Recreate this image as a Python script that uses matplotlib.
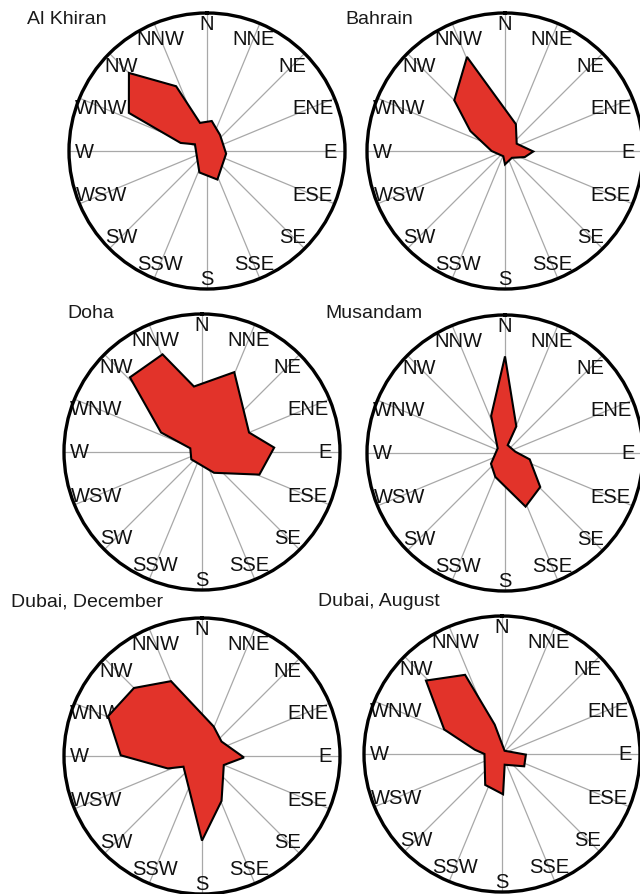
import numpy as np
import matplotlib.pyplot as plt

plt.rcParams['font.family'] = ['Liberation Sans', 'DejaVu Sans']

# 16 compass points, bearing clockwise from north
directions = ['N', 'NNE', 'NE', 'ENE', 'E', 'ESE', 'SE', 'SSE',
              'S', 'SSW', 'SW', 'WSW', 'W', 'WNW', 'NW', 'NNW']

stations = ['Al Khiran', 'Bahrain', 'Doha', 'Musandam',
            'Dubai, December', 'Dubai, August']

# outline of each rose: bearing (deg) and radius (1 = outer circle)
al_khiran_deg = [315, 334.5, 346, 9, 39, 98, 160, 199.5, 299, 287, 296]
al_khiran_r = [0.80, 0.52, 0.21, 0.22, 0.15, 0.14, 0.22, 0.165, 0.10, 0.20, 0.63]

bahrain_deg = [338, 22, 58, 91, 107, 135, 180, 198, 270, 300, 315]
bahrain_r = [0.735, 0.21, 0.10, 0.205, 0.15, 0.07, 0.097, 0.04, 0.097, 0.29, 0.52]

doha_deg = [338, 353, 22, 67.5, 86.5, 111.5, 150, 235.5, 287.5, 295.5, 316]
doha_r = [0.763, 0.478, 0.624, 0.369, 0.524, 0.447, 0.174, 0.094, 0.089, 0.329, 0.752]

musandam_deg = [0, 23, 19, 82.5, 104.5, 134, 159, 202, 232.5, 302.5, 339.5]
musandam_r = [0.70, 0.21, 0.06, 0.075, 0.185, 0.355, 0.416, 0.187, 0.128, 0.063, 0.287]

dubai_dec_deg = [337.5, 315, 293, 270.5, 250, 240, 180, 156.5, 112.5, 92, 53.5, 21.5]
dubai_dec_r = [0.587, 0.697, 0.739, 0.589, 0.264, 0.155, 0.613, 0.355, 0.171, 0.304, 0.176, 0.23]

dubai_aug_deg = [335, 314, 293, 279, 270, 208.5, 178.5, 166, 119, 91.5, 38.5, 346]
dubai_aug_r = [0.633, 0.766, 0.455, 0.20, 0.127, 0.255, 0.292, 0.08, 0.184, 0.173, 0.03, 0.22]

roses = [(al_khiran_deg, al_khiran_r), (bahrain_deg, bahrain_r),
         (doha_deg, doha_r), (musandam_deg, musandam_r),
         (dubai_dec_deg, dubai_dec_r), (dubai_aug_deg, dubai_aug_r)]

W, H = 640, 895
R = 138
centers = [(207, 152), (505, 152), (202, 453), (505, 454), (202, 757), (502, 755)]
title_pos = [(27, 20), (345, 19), (67, 314), (325, 313), (11, 602), (318, 602)]

fig = plt.figure(figsize=(W / 100, H / 100), dpi=100)

for name, (deg, r), (cx, cy), (tx, ty) in zip(stations, roses, centers, title_pos):
    ax = fig.add_axes([(cx - R) / W, 1 - (cy + R) / H, 2 * R / W, 2 * R / H],
                      projection='polar')
    ax.set_theta_zero_location('N')
    ax.set_theta_direction(-1)
    ax.set_ylim(0, 1)
    ax.set_xticks([])
    ax.set_yticks([])
    ax.grid(False)
    ax.spines['polar'].set_linewidth(2.4)

    # spokes and labels
    for i, d in enumerate(directions):
        th = np.deg2rad(i * 22.5)
        ax.plot([th, th], [0, 1], color='#a8a8a8', lw=0.9, zorder=1)
        rr = 0.925 - 0.035 * len(d) * abs(np.sin(th))
        ax.text(th, rr, d, ha='center', va='center', fontsize=14.5,
                color='#111111', zorder=2)

    ax.fill(np.deg2rad(deg), r, facecolor='#e2332a', edgecolor='black',
            lw=1.5, zorder=3)

    fig.text(tx / W, 1 - ty / H, name, ha='left', va='center',
             fontsize=14, color='#1a1a1a')

fig.savefig('out.png', dpi=100)
